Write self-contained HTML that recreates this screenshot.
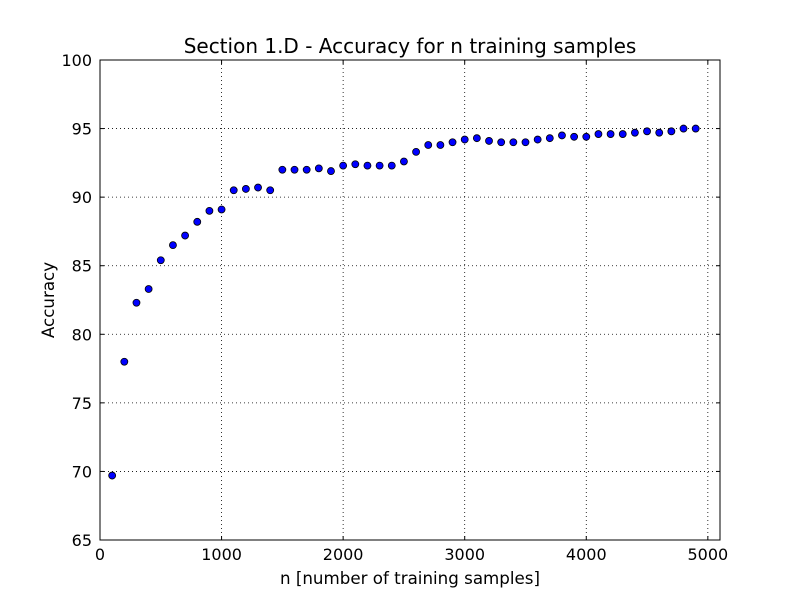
<!DOCTYPE html>
<html><head><meta charset="utf-8"><style>
html,body{margin:0;padding:0;background:#fff;}
svg{display:block;font-family:"DejaVu Sans","Liberation Sans",sans-serif;}
</style></head><body>
<svg id="chart" width="800" height="600" viewBox="0 0 800 600" xmlns="http://www.w3.org/2000/svg">
<rect width="800" height="600" fill="#fff"/>
<text x="410" y="53" text-anchor="middle" font-size="20">Section 1.D - Accuracy for n training samples</text>
<text x="410" y="584" text-anchor="middle" font-size="16.7">n [number of training samples]</text>
<text x="54" y="300" text-anchor="middle" font-size="16.7" transform="rotate(-90 54 300)">Accuracy</text>
<g id="grid"></g><g id="ticks"></g><g id="points"></g>
<rect x="100" y="60" width="620" height="480" fill="none" stroke="#000" stroke-width="1"/>
</svg>
<script>
const samples = [100,200,300,400,500,600,700,800,900,1000,1100,1200,1300,1400,1500,1600,1700,1800,1900,2000,2100,2200,2300,2400,2500,2600,2700,2800,2900,3000,3100,3200,3300,3400,3500,3600,3700,3800,3900,4000,4100,4200,4300,4400,4500,4600,4700,4800,4900];
const accuracy = [69.7,78.0,82.3,83.3,85.4,86.5,87.2,88.2,89.0,89.1,90.5,90.6,90.7,90.5,92.0,92.0,92.0,92.1,91.9,92.3,92.4,92.3,92.3,92.3,92.6,93.3,93.8,93.8,94.0,94.2,94.3,94.1,94.0,94.0,94.0,94.2,94.3,94.5,94.4,94.4,94.6,94.6,94.6,94.7,94.8,94.7,94.8,95.0,95.0];
const xTicks = [0,1000,2000,3000,4000,5000];
const yTicks = [65,70,75,80,85,90,95,100];
const X0=100,X1=720,Y0=540,Y1=60,XMIN=0,XMAX=5100,YMIN=65,YMAX=100;
const sx=v=>X0+(v-XMIN)/(XMAX-XMIN)*(X1-X0);
const sy=v=>Y0-(v-YMIN)/(YMAX-YMIN)*(Y0-Y1);
const NS="http://www.w3.org/2000/svg";
function mk(tag,attrs,parent,txt){const e=document.createElementNS(NS,tag);for(const k in attrs)e.setAttribute(k,attrs[k]);if(txt!==undefined)e.textContent=txt;parent.appendChild(e);return e;}
const grid=document.getElementById('grid'),ticks=document.getElementById('ticks'),pts=document.getElementById('points');
xTicks.forEach(t=>{const x=sx(t);
 const g=mk('line',{x1:x,x2:x,y1:Y1,y2:Y0,stroke:'#000','stroke-dasharray':'1,3','stroke-width':0.8},grid);
 
 
 mk('line',{x1:x,x2:x,y1:Y0,y2:Y0-4,stroke:'#000'},ticks);
 mk('line',{x1:x,x2:x,y1:Y1,y2:Y1+4,stroke:'#000'},ticks);
 const l=mk('text',{x:x,y:Y0+20,'text-anchor':'middle','font-size':16},ticks,String(t));
 
 
});
yTicks.forEach(t=>{const y=sy(t);
 const g=mk('line',{x1:X0,x2:X1,y1:y,y2:y,stroke:'#000','stroke-dasharray':'1,3','stroke-width':0.8},grid);
 
 
 mk('line',{x1:X0,x2:X0+4,y1:y,y2:y,stroke:'#000'},ticks);
 mk('line',{x1:X1,x2:X1-4,y1:y,y2:y,stroke:'#000'},ticks);
 const l=mk('text',{x:X0-8,y:y+6,'text-anchor':'end','font-size':16},ticks,String(t));
 
 
});
samples.forEach((s,i)=>{
 const c=mk('circle',{cx:sx(s),cy:sy(accuracy[i]),r:3.5,fill:'#0000ff',stroke:'#000','stroke-width':0.8},pts);
 
 
});
</script>
</body></html>
